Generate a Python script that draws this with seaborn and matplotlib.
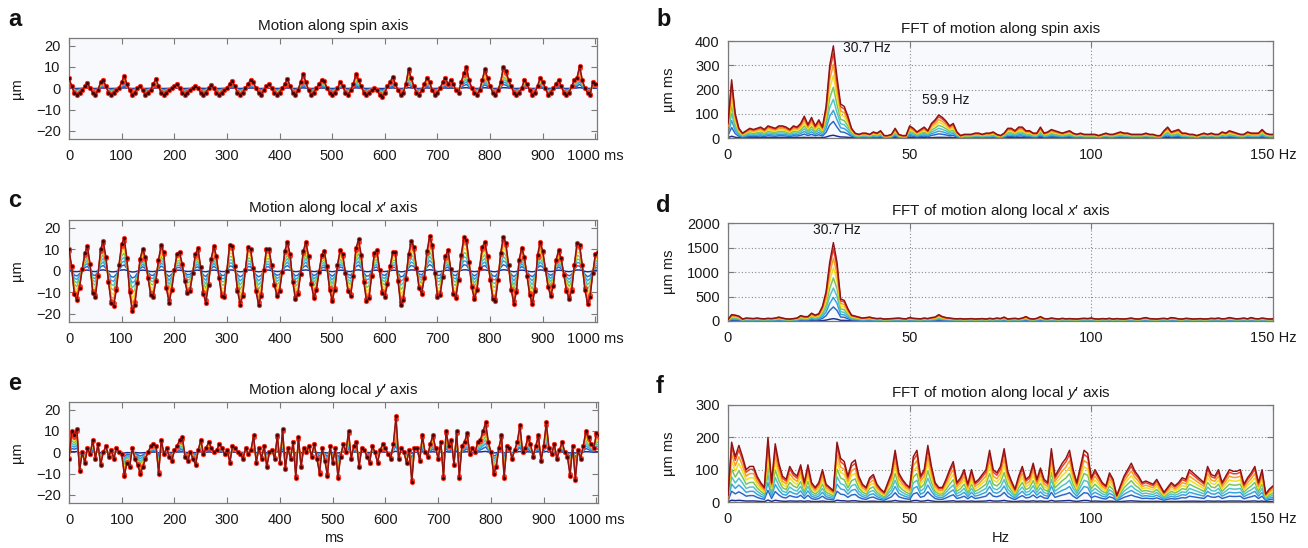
import numpy as np
import matplotlib.pyplot as plt
import seaborn as sns

# sample grids (ms and Hz)
TIME_MS = np.arange(0, 1006, 5)
FREQ_HZ = np.arange(0, 151)

# outermost (dark red) trace of each time panel
SPIN_UM = [
    5, 1, -2, -3, -2, -1, 1, 2.5, 0, -2,
    -3, -1, 3, 4, 1, -2, -3, -2, -1, 0,
    3, 6, 2, -1, -3, -2, 0, 1, -1, -3,
    -2, -1, 2, 4.5, 1, -2, -3, -2, -1, 0,
    1, 2, 0, -2, -3, -2, -1, 0, 1, 0,
    -2, -3, -2, 0, 1.5, 0, -2, -3, -2, -1,
    0, 2, 3.5, 1, -2, -3, -2, 0, 2, 4,
    3, 0, -2, -3, -1, 1, 2, 0, -2, -3,
    -2, 0, 2, 4.5, 1, -2, -3, -1, 3, 6.5,
    3, -1, -3, -2, 0, 2, 4, 3.5, 0, -2,
    -3, -2, 0, 3, 1, -2, -3, -1, 2, 6.5,
    4, 1, -2, -3, -2, -1, 0, -1, -3, -4,
    -2, 1, 3, 5.5, 2, -1, -3, -2, 2, 9,
    5, 1, -2, -3, -1, 2, 5, 3, -1, -3,
    -2, 0, 3, 5, 2, 4, 2, -1, -2, 3,
    7, 10, 4, 0, -2, -3, -1, 4, 9, 5,
    1, -2, -3, -1, 3, 10, 8, 4, 1, -2,
    -3, -2, 0, 4, 2, -1, -3, -2, 1, 5,
    3, 0, -3, -2, 0, 2, 4, 1, -2, -3,
    -2, 1, 4, 5, 10.5, 4, 0, -2, -3, 3,
    2, 2,
]

XLOCAL_UM = [
    10, 2, -11, -13.5, -7.9, 0.7, 8.1, 11.4, 3.2, -10.3,
    -12.4, -2.2, 10, 13.8, 6.6, -5.2, -15.1, -16.2, -8.9, 2.8,
    12.5, 15.1, 5.8, -9.7, -18.7, -16, -5.8, 5.6, 10.3, 6.2,
    -3.3, -11.1, -12, -4.8, 5.1, 12, 8.6, -8.1, -14.9, -9.1,
    0.2, 8, 8.9, 3.1, -4.9, -10.4, -9.3, -1.2, 7.7, 10.5,
    1.9, -10.6, -14.8, -6.6, 5.6, 11.4, 6.9, -3.3, -11.8, -12.2,
    0, 12.2, 11.7, 2.3, -9.2, -15.7, -11.8, 0.5, 10.9, 10.3,
    1.4, -9.6, -15.7, -11.9, 0.2, 10.3, 10, 2.5, -6.6, -11.8,
    -9.5, -0.5, 9.4, 13.5, 7.6, -5.1, -13.2, -10.8, -1.4, 9.2,
    13.5, 7, -6.2, -12.7, -9.1, -0.5, 7.3, 9.3, 2, -8.8,
    -14, -8.7, 2.6, 9.8, 7.6, -1, -9.6, -11.7, -2.6, 10.4,
    14.7, 7.5, -5.1, -14.1, -12.7, -2.3, 8.2, 9.6, 0.2, -10.2,
    -12, -6.2, 2.1, 8.9, 8.7, -4.8, -16, -13.6, -3.7, 7.6,
    13.7, 11.2, 1.5, -8.2, -10.7, -3.3, 9, 16.1, 12, -1.1,
    -12.1, -11.4, -2.8, 6.7, 9.8, 0.9, -11, -12.5, -4.1, 7.5,
    15.5, 14.3, 4.2, -7.7, -13.3, -9, 1.5, 11, 13.5, 6.8,
    -4.1, -13.3, -14.1, -4.5, 8.3, 15.7, 12.8, 2.7, -9, -15.4,
    -9.8, 5.1, 10.8, 6.5, -2.4, -11.2, -15.4, -9.2, 7.2, 13.5,
    9.3, 0.9, -7.6, -11.8, -7.2, 4.9, 9.6, 5.8, -1.8, -9.4,
    -13.1, -9.2, 2.8, 12.9, 12.2, 2.7, -8.9, -15.4, -12, -1.1,
    8, 8.5,
]

YLOCAL_UM = [
    -3, 10, 8, 11, -9, 0, -5, 2, -1, 6,
    -3, 4, -6, 0, 3, -2, 1, -3, 2, 0,
    -1, -11, -5, -7, 2, -3, -6, -10, -7, -3,
    0, 3, 4, 3, -10, 6, -1, 2, -2, -4,
    1, 3, 6, 7, -2, -4, 0, -3, -6, 1,
    6, -1, 2, 5, 2, 0, 1, 4, 2, -1,
    1, -5, 3, 2, 0, -1, -3, 2, -1, 1,
    8, -5, 2, -3, 3, -7, 0, 1, -3, 8,
    -5, 11, -8, 2, -3, 5, -12, 7, -7, 2,
    0, 3, -2, 4, -3, -10, 2, -4, -11, 3,
    -5, 2, -12, -2, 4, 0, 10, -3, 3, 5,
    -7, 2, 1, -2, -5, 3, 0, -5, 1, 4,
    2, -1, -3, 4, 17, -3, 2, 0, -5, 1,
    -14, 2, 2, -4, 8, 0, -2, 4, 8, 2,
    -3, 5, -12, 10, 3, 6, -6, 10, -12, 3,
    5, 9, -1, 2, 0, 5, 6, 10, 14, 5,
    0, -10, -7, 2, 8, -12, 3, 2, -3, 1,
    5, 13, 0, 2, 7, 4, -2, 3, 8, -4,
    3, 14, 2, -1, 4, -3, 1, 5, 0, -2,
    -11, 3, -13, 1, -3, 3, 10, 7, 4, 2,
    9, 8,
]

# outermost (dark red) trace of each spectrum, 1 Hz bins
SPIN_FFT = [
    60, 240, 100, 40, 20, 30, 40, 35, 40, 45,
    35, 50, 45, 40, 50, 50, 45, 35, 50, 45,
    60, 90, 55, 85, 50, 75, 45, 130, 300, 380,
    250, 140, 130, 90, 40, 20, 15, 20, 20, 15,
    25, 20, 30, 10, 10, 15, 40, 15, 10, 10,
    50, 40, 25, 35, 45, 30, 60, 75, 95, 85,
    70, 50, 60, 25, 10, 15, 15, 15, 20, 20,
    15, 20, 20, 25, 15, 10, 20, 40, 40, 30,
    45, 45, 30, 30, 20, 20, 45, 20, 25, 35,
    30, 25, 20, 25, 30, 20, 15, 20, 15, 15,
    15, 15, 10, 15, 20, 15, 15, 20, 25, 20,
    20, 15, 15, 15, 15, 20, 15, 15, 10, 10,
    30, 45, 25, 30, 35, 20, 20, 15, 15, 10,
    15, 20, 15, 20, 15, 15, 25, 20, 30, 25,
    20, 15, 15, 25, 20, 20, 20, 35, 20, 15,
    15,
]

XLOCAL_FFT = [
    30, 130, 120, 100, 40, 60, 55, 50, 60, 50,
    45, 55, 50, 60, 80, 60, 45, 40, 50, 60,
    110, 90, 90, 160, 120, 150, 300, 600, 1200, 1600,
    1200, 450, 420, 250, 120, 100, 80, 60, 70, 80,
    60, 50, 55, 40, 45, 50, 55, 60, 50, 45,
    70, 55, 50, 45, 60, 50, 70, 80, 130, 90,
    70, 60, 50, 45, 50, 40, 45, 50, 40, 45,
    50, 40, 55, 45, 60, 50, 80, 40, 50, 55,
    45, 60, 90, 50, 40, 55, 90, 50, 45, 60,
    50, 40, 55, 45, 50, 45, 40, 50, 55, 50,
    60, 45, 40, 50, 45, 55, 40, 50, 45, 40,
    50, 60, 45, 40, 55, 70, 50, 45, 40, 50,
    55, 45, 70, 60, 45, 40, 55, 50, 40, 45,
    50, 40, 45, 55, 50, 60, 45, 50, 70, 55,
    45, 50, 60, 45, 70, 50, 45, 60, 50, 40,
    45,
]

YLOCAL_FFT = [
    20, 185, 140, 175, 140, 100, 110, 110, 80, 60,
    45, 200, 60, 180, 120, 80, 70, 110, 90, 80,
    115, 60, 115, 60, 45, 60, 100, 55, 45, 35,
    185, 135, 125, 80, 120, 130, 80, 55, 45, 75,
    85, 55, 40, 30, 60, 90, 160, 90, 70, 55,
    45, 140, 160, 80, 100, 175, 110, 60, 45, 45,
    70, 100, 125, 60, 75, 100, 55, 100, 60, 70,
    85, 100, 160, 100, 90, 110, 165, 95, 65, 40,
    80, 110, 70, 80, 120, 70, 105, 70, 60, 165,
    80, 100, 120, 135, 160, 100, 60, 110, 160, 150,
    75, 100, 80, 60, 50, 90, 70, 20, 50, 80,
    100, 120, 95, 80, 60, 65, 60, 55, 70, 50,
    30, 45, 60, 50, 60, 75, 70, 100, 90, 80,
    70, 60, 110, 85, 80, 100, 60, 80, 100, 95,
    95, 100, 55, 75, 90, 110, 60, 100, 25, 40,
    50,
]

# relative size of each nested trace (inner blue -> outer dark red)
TRACE_GAINS = [0.03, 0.18, 0.3, 0.42, 0.55, 0.68, 0.8, 0.92, 1.0]
TRACE_COLORS = ["#1b2d8c", "#2a66c9", "#35a3dc", "#4fc3c6", "#79c456",
                "#f1df1e", "#f6a01e", "#ee3b25", "#8e1313"]

TIME_TICKS = [0, 100, 200, 300, 400, 500, 600, 700, 800, 900, 1000]
TIME_TICKLABELS = ["0", "100", "200", "300", "400", "500", "600", "700", "800", "900", "1000 ms"]
FREQ_TICKS = [0, 50, 100, 150]
FREQ_TICKLABELS = ["0", "50", "100", "150 Hz"]

W, H = 1308, 548

sns.set_theme(style="ticks")
plt.rcParams["font.family"] = ["Liberation Sans", "DejaVu Sans"]
plt.rcParams["mathtext.fontset"] = "custom"
plt.rcParams["mathtext.it"] = "Liberation Sans:italic"
plt.rcParams["mathtext.rm"] = "Liberation Sans"

fig = plt.figure(figsize=(W / 100, H / 100), dpi=100)
fig.patch.set_facecolor("white")


def px_axes(left, top, right, bottom):
    return fig.add_axes([left / W, 1 - bottom / H, (right - left) / W, (bottom - top) / H])


def style_axes(ax, title, ylabel, xlim, ylim, xticks, xticklabels, yticks, grid, ylabel_x):
    ax.set_facecolor("#f8f9fc")
    ax.set_xlim(*xlim)
    ax.set_ylim(*ylim)
    ax.set_xticks(xticks)
    ax.set_xticklabels(xticklabels)
    ax.set_yticks(yticks)
    ax.tick_params(direction="in", length=4, width=0.8, top=True, right=True,
                   labelsize=10.5, colors="#7a7a7a", labelcolor="#1a1a1a")
    ax.tick_params(axis="x", pad=7)
    ax.tick_params(axis="y", pad=6)
    for sp in ax.spines.values():
        sp.set_visible(True)
        sp.set_color("#7a7a7a")
        sp.set_linewidth(0.9)
    if grid:
        ax.grid(True, linestyle=(0, (1, 2)), color="#8a8a8a", linewidth=0.8)
        ax.set_axisbelow(True)
    ax.set_title(title, fontsize=11, color="#1a1a1a", pad=6)
    ax.set_ylabel(ylabel, fontsize=10.5, color="#1a1a1a")
    ax.yaxis.set_label_coords(ylabel_x, 0.5)
    ax.set_xlabel("")


def draw_traces(ax, x, base, markers):
    x = np.asarray(x)[:len(base)]
    base = np.asarray(base, dtype=float)
    n = len(TRACE_GAINS)
    for i, (gain, color) in enumerate(zip(TRACE_GAINS, TRACE_COLORS)):
        y = base * gain
        kw = {}
        if markers and i == n - 2:
            kw = dict(marker="o", markersize=3.6, markerfacecolor="#ff3a22", markeredgewidth=0)
        elif markers and i == n - 1:
            # bright red halo under the dark sample dots
            sns.scatterplot(x=x, y=y, color="#ff2a1a", s=14, linewidth=0, ax=ax,
                            legend=False, zorder=3)
            kw = dict(marker="o", markersize=2.3, markerfacecolor="#3c0606", markeredgewidth=0)
        sns.lineplot(x=x, y=y, color=color, linewidth=1.05, ax=ax,
                     estimator=None, sort=False, legend=False, zorder=2 + i * 0.1 + (2 if i == n - 1 else 0), **kw)


time_lim = (0, 1003)
time_ylim = (-23.8, 23.6)
time_yticks = [-20, -10, 0, 10, 20]

ax_a = px_axes(69, 38, 597, 139)
draw_traces(ax_a, TIME_MS, SPIN_UM, True)
style_axes(ax_a, "Motion along spin axis", "µm", time_lim, time_ylim,
           TIME_TICKS, TIME_TICKLABELS, time_yticks, False, -0.085)

ax_b = px_axes(728, 41, 1273, 138)
draw_traces(ax_b, FREQ_HZ, SPIN_FFT, False)
style_axes(ax_b, "FFT of motion along spin axis", "µm ms", (0, 150), (0, 400),
           FREQ_TICKS, FREQ_TICKLABELS, [0, 100, 200, 300, 400], True, -0.095)
ax_b.text(31.6, 370, "30.7 Hz", fontsize=10, va="center", ha="left", color="#1a1a1a")
ax_b.text(53.4, 157, "59.9 Hz", fontsize=10, va="center", ha="left", color="#1a1a1a")

ax_c = px_axes(69, 220, 597, 322)
draw_traces(ax_c, TIME_MS, XLOCAL_UM, True)
style_axes(ax_c, "Motion along local $x$′ axis", "µm", time_lim, time_ylim,
           TIME_TICKS, TIME_TICKLABELS, time_yticks, False, -0.085)

ax_d = px_axes(728, 223, 1273, 321)
draw_traces(ax_d, FREQ_HZ, XLOCAL_FFT, False)
style_axes(ax_d, "FFT of motion along local $x$′ axis", "µm ms", (0, 150), (0, 2000),
           FREQ_TICKS, FREQ_TICKLABELS, [0, 500, 1000, 1500, 2000], True, -0.095)
ax_d.text(30, 1860, "30.7 Hz", fontsize=10, va="center", ha="center", color="#1a1a1a")

ax_e = px_axes(69, 402, 598, 503)
draw_traces(ax_e, TIME_MS, YLOCAL_UM, True)
style_axes(ax_e, "Motion along local $y$′ axis", "µm", time_lim, time_ylim,
           TIME_TICKS, TIME_TICKLABELS, time_yticks, False, -0.085)
ax_e.set_xlabel("ms", fontsize=10.5, color="#1a1a1a")
ax_e.xaxis.set_label_coords(0.5, -0.28)

ax_f = px_axes(728, 405, 1273, 502)
draw_traces(ax_f, FREQ_HZ, YLOCAL_FFT, False)
style_axes(ax_f, "FFT of motion along local $y$′ axis", "µm ms", (0, 150), (0, 300),
           FREQ_TICKS, FREQ_TICKLABELS, [0, 100, 200, 300], True, -0.095)
ax_f.set_xlabel("Hz", fontsize=10.5, color="#1a1a1a")
ax_f.xaxis.set_label_coords(0.5, -0.30)

for letter, x, y in [("a", 8, 26), ("b", 656, 26), ("c", 8, 207),
                     ("d", 656, 212), ("e", 8, 390), ("f", 656, 393)]:
    fig.text(x / W, 1 - y / H, letter, fontsize=17, fontweight="bold",
             va="baseline", ha="left", color="#111111")

fig.savefig("out.png", dpi=100)
